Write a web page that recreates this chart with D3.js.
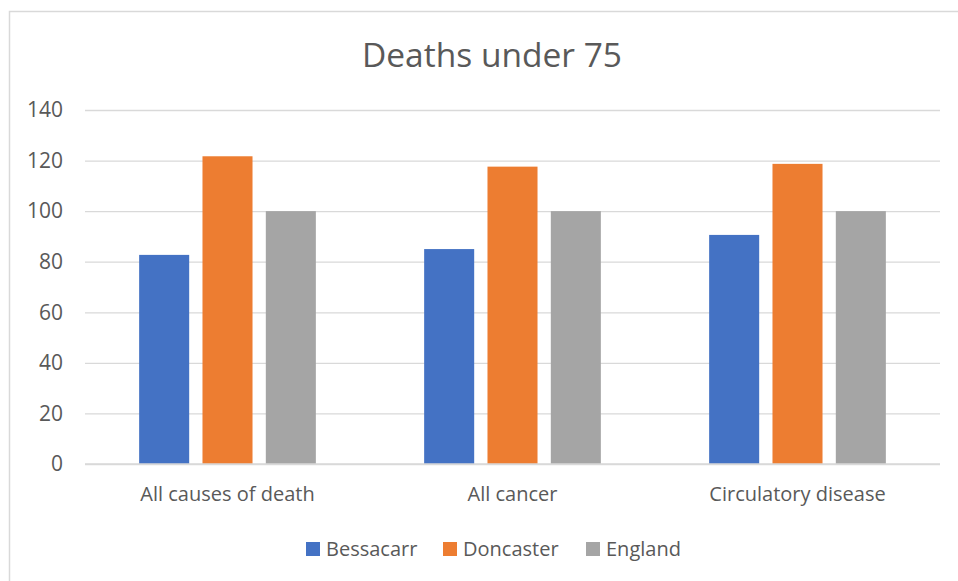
<!DOCTYPE html>
<html>
<head>
<meta charset="utf-8">
<script src="https://cdn.jsdelivr.net/npm/d3@7"></script>
<style>
  html, body { margin: 0; padding: 0; background: #fff; }
  svg { display: block; font-family: "Open Sans", sans-serif; }
</style>
</head>
<body>
<svg id="chart" width="958" height="581"></svg>
<script>
const title = "Deaths under 75";
const categories = ["All causes of death", "All cancer", "Circulatory disease"];
const seriesNames = ["Bessacarr", "Doncaster", "England"];
const bessacarr = [82.7, 85.0, 90.6];
const doncaster = [121.7, 117.6, 118.7];
const england = [100, 100, 100];
const yTicks = [0, 20, 40, 60, 80, 100, 120, 140];
const colors = ["#4472C4", "#ED7D31", "#A5A5A5"];

const seriesValues = [bessacarr, doncaster, england];
const svg = d3.select("#chart");
const W = 958, H = 581;
const plot = { left: 85, right: 940, top: 110, bottom: 464 };

// chart frame
svg.append("rect")
  .attr("x", 9.5).attr("y", 11.5)
  .attr("width", W + 20).attr("height", H + 20)
  .attr("fill", "#fff").attr("stroke", "#d9d9d9").attr("stroke-width", 1.5);

svg.append("text")
  .attr("x", 492).attr("y", 67)
  .attr("text-anchor", "middle")
  .attr("font-size", 33.5).attr("fill", "#595959")
  .text(title);

const y = d3.scaleLinear().domain([0, 140]).range([plot.bottom, plot.top]);
const x0 = d3.scaleBand().domain(categories).range([plot.left, plot.right]).paddingInner(0).paddingOuter(0);
const x1 = d3.scaleBand().domain(seriesNames).range([0, x0.bandwidth()]).paddingInner(0.21).paddingOuter(0.855);

// gridlines
const yAxis = d3.axisLeft(y).tickValues(yTicks).tickSize(-(plot.right - plot.left)).tickPadding(22);
const gy = svg.append("g").attr("transform", `translate(${plot.left},0)`).call(yAxis);
gy.select(".domain").remove();
gy.selectAll(".tick line").attr("stroke", "#d9d9d9").attr("stroke-width", 1.3);
gy.selectAll(".tick text").attr("font-size", 21).attr("fill", "#595959").attr("font-family", "Open Sans");

// bars
const groups = svg.append("g").selectAll("g").data(categories).join("g")
  .attr("transform", d => `translate(${x0(d)},0)`);
groups.selectAll("rect")
  .data((c, i) => seriesNames.map((s, j) => ({ s, v: seriesValues[j][i], j })))
  .join("rect")
  .attr("x", d => x1(d.s))
  .attr("width", x1.bandwidth())
  .attr("y", d => y(d.v))
  .attr("height", d => y(0) - y(d.v))
  .attr("fill", d => colors[d.j]);

// baseline
svg.append("line")
  .attr("x1", plot.left).attr("x2", plot.right)
  .attr("y1", y(0)).attr("y2", y(0))
  .attr("stroke", "#d9d9d9").attr("stroke-width", 1.3);

// category axis
const xAxis = d3.axisBottom(x0).tickSize(0).tickPadding(23);
const gx = svg.append("g").attr("transform", `translate(0,${plot.bottom})`).call(xAxis);
gx.select(".domain").remove();
gx.selectAll(".tick text").attr("font-size", 20).attr("fill", "#595959").attr("font-family", "Open Sans");

// legend
const legendX = [306, 443, 586];
const lg = svg.append("g").selectAll("g").data(seriesNames).join("g")
  .attr("transform", (d, i) => `translate(${legendX[i]},542)`);
lg.append("rect").attr("width", 14).attr("height", 14).attr("fill", (d, i) => colors[i]);
lg.append("text").attr("x", 20).attr("y", 14)
  .attr("font-size", 20).attr("fill", "#595959")
  .text(d => d);
</script>
</body>
</html>
